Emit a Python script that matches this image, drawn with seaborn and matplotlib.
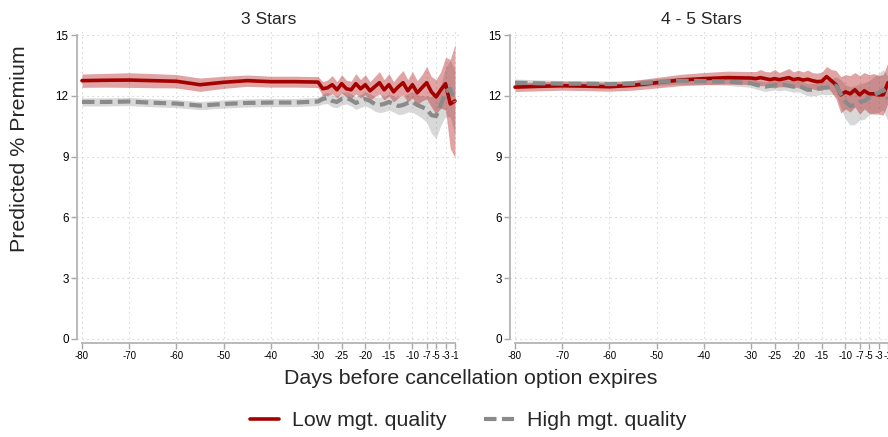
import pandas as pd
import numpy as np
import seaborn as sns
import matplotlib
matplotlib.use("Agg")
import matplotlib.pyplot as plt

sns.set_style('white')
plt.rcParams['font.family'] = ['Liberation Sans', 'DejaVu Sans']

# days before the cancellation option expires
days = [-80, -75, -70, -65, -60, -55, -50, -45, -40, -35, -30,
        -29, -28, -27, -26, -25, -24, -23, -22, -21, -20,
        -19, -18, -17, -16, -15, -14, -13, -12, -11, -10,
        -9, -8, -7, -6, -5, -4, -3, -2, -1]

# 3 Stars
low3 = [12.75, 12.77, 12.78, 12.75, 12.72, 12.55, 12.67, 12.75, 12.70, 12.70, 12.68,
        12.35, 12.40, 12.55, 12.30, 12.60, 12.35, 12.30, 12.60, 12.35, 12.55,
        12.25, 12.45, 12.65, 12.30, 12.55, 12.20, 12.45, 12.65, 12.25, 12.55,
        12.15, 12.40, 12.65, 12.20, 11.95, 12.30, 12.60, 11.60, 11.75]
low3_hw = [0.33, 0.34, 0.36, 0.35, 0.33, 0.33, 0.30, 0.28, 0.27, 0.27, 0.27,
           0.35, 0.38, 0.45, 0.40, 0.45, 0.42, 0.42, 0.50, 0.45, 0.50,
           0.45, 0.50, 0.55, 0.50, 0.55, 0.50, 0.55, 0.60, 0.55, 0.65,
           0.60, 0.65, 0.80, 0.75, 0.85, 0.90, 1.30, 2.20, 2.80]
high3 = [11.70, 11.70, 11.72, 11.66, 11.62, 11.52, 11.60, 11.65, 11.67, 11.67, 11.72,
         11.85, 11.90, 11.75, 11.70, 11.85, 11.90, 11.80, 11.65, 11.75, 11.85,
         11.75, 11.60, 11.55, 11.60, 11.70, 11.60, 11.50, 11.55, 11.65, 11.70,
         11.55, 11.45, 11.35, 11.05, 11.00, 11.55, 12.20, 12.35, 11.70]
high3_hw = [0.20, 0.20, 0.20, 0.20, 0.20, 0.20, 0.20, 0.20, 0.20, 0.20, 0.20,
            0.25, 0.28, 0.30, 0.28, 0.30, 0.30, 0.30, 0.32, 0.32, 0.35,
            0.35, 0.35, 0.38, 0.38, 0.40, 0.40, 0.42, 0.45, 0.45, 0.50,
            0.50, 0.55, 0.65, 0.90, 1.10, 1.00, 1.20, 1.40, 1.60]

# 4 - 5 Stars
low45 = [12.43, 12.47, 12.50, 12.48, 12.45, 12.52, 12.65, 12.78, 12.85, 12.90, 12.88,
         12.85, 12.90, 12.85, 12.80, 12.85, 12.80, 12.85, 12.90, 12.80, 12.85,
         12.78, 12.82, 12.75, 12.70, 12.72, 12.95, 12.75, 12.55, 12.05, 12.20,
         12.10, 12.30, 12.05, 12.25, 12.10, 12.10, 12.05, 12.05, 12.65]
low45_hw = [0.22, 0.22, 0.22, 0.22, 0.22, 0.24, 0.26, 0.28, 0.30, 0.32, 0.32,
            0.35, 0.40, 0.35, 0.38, 0.45, 0.35, 0.40, 0.45, 0.38, 0.42,
            0.40, 0.45, 0.40, 0.42, 0.45, 0.50, 0.55, 0.70, 0.90, 0.85,
            0.90, 0.85, 0.95, 0.90, 0.95, 1.00, 0.95, 1.00, 1.00]
high45 = [12.65, 12.62, 12.60, 12.60, 12.58, 12.60, 12.68, 12.75, 12.73, 12.70, 12.62,
          12.55, 12.50, 12.45, 12.50, 12.55, 12.50, 12.55, 12.50, 12.45, 12.50,
          12.40, 12.30, 12.30, 12.35, 12.40, 12.40, 12.45, 12.50, 12.10, 11.70,
          11.50, 11.55, 11.70, 11.75, 11.90, 12.05, 12.15, 12.30, 11.85]
high45_hw = [0.18, 0.17, 0.16, 0.16, 0.16, 0.16, 0.17, 0.18, 0.18, 0.18, 0.20,
             0.22, 0.22, 0.24, 0.24, 0.25, 0.25, 0.26, 0.26, 0.28, 0.28,
             0.30, 0.30, 0.30, 0.32, 0.32, 0.35, 0.38, 0.45, 0.70, 0.85,
             0.95, 0.95, 0.90, 0.90, 0.85, 0.90, 0.95, 1.00, 1.10]

xticks = [-80, -70, -60, -50, -40, -30, -25, -20, -15, -10, -7, -5, -3, -1]
yticks = [0, 3, 6, 9, 12, 15]

RED = '#a50000'
GREY = '#8a8a8a'

fig = plt.figure(figsize=(8.88, 4.37), dpi=100)
ax1 = fig.add_axes([0.0867, 0.215, 0.4313, 0.714])
ax2 = fig.add_axes([0.5743, 0.215, 0.4313, 0.714])

panels = [(ax1, '3 Stars', low3, low3_hw, high3, high3_hw),
          (ax2, '4 - 5 Stars', low45, low45_hw, high45, high45_hw)]

for ax, title, lo, lo_hw, hi, hi_hw in panels:
    df = pd.DataFrame({'day': days, 'low': lo, 'low_hw': lo_hw,
                       'high': hi, 'high_hw': hi_hw})
    ax.fill_between(df['day'], df['high'] - df['high_hw'], df['high'] + df['high_hw'],
                    color='#909090', alpha=0.35, lw=0, zorder=2)
    ax.fill_between(df['day'], df['low'] - df['low_hw'], df['low'] + df['low_hw'],
                    color='#b01010', alpha=0.38, lw=0, zorder=2)
    sns.lineplot(data=df, x='day', y='low', color=RED, lw=2.6, ax=ax, zorder=3)
    sns.lineplot(data=df, x='day', y='high', color=GREY, lw=3.0, ax=ax, zorder=4,
                 dashes=False)
    ax.get_lines()[-1].set_dashes((3.0, 1.3))

    ax.set_xlim(-81.06, 0.06)
    ax.set_ylim(-0.2, 15.2)
    ax.set_xticks(xticks)
    ax.set_xticklabels([str(t) for t in xticks], fontsize=7)
    ax.set_yticks(yticks)
    ax.set_yticklabels([str(t) for t in yticks], fontsize=8.4)
    ax.set_xlabel('')
    ax.set_ylabel('')
    ax.grid(True, color='#c8c8c8', linestyle=(0, (1, 3.5)), lw=0.8)
    ax.tick_params(axis='both', length=4, width=1, color='#a8a8a8',
                   labelcolor='black', pad=2, bottom=True, left=True)
    for s in ['top', 'right']:
        ax.spines[s].set_visible(False)
    for s in ['left', 'bottom']:
        ax.spines[s].set_color('#b4b4b4')
        ax.spines[s].set_linewidth(1.3)
    ax.spines['left'].set_bounds(0, 15)
    ax.spines['bottom'].set_bounds(-80, -1)
    ax.set_title(title, fontsize=12.6, pad=5)

fig.text(0.530, 0.135, 'Days before cancellation option expires',
         ha='center', va='center', fontsize=15.4)
fig.text(0.022, 0.66, 'Predicted % Premium', ha='center', va='center',
         rotation=90, fontsize=15.4)

handles = [plt.Line2D([], [], color=RED, lw=2.6),
           plt.Line2D([], [], color=GREY, lw=3.0, dashes=(3.0, 1.3))]
fig.legend(handles, ['Low mgt. quality', 'High mgt. quality'], loc='center',
           bbox_to_anchor=(0.527, 0.037), ncol=2, frameon=False, fontsize=15.4,
           handlelength=1.4, handletextpad=0.6, columnspacing=1.75)

plt.savefig('out.png', dpi=100)
